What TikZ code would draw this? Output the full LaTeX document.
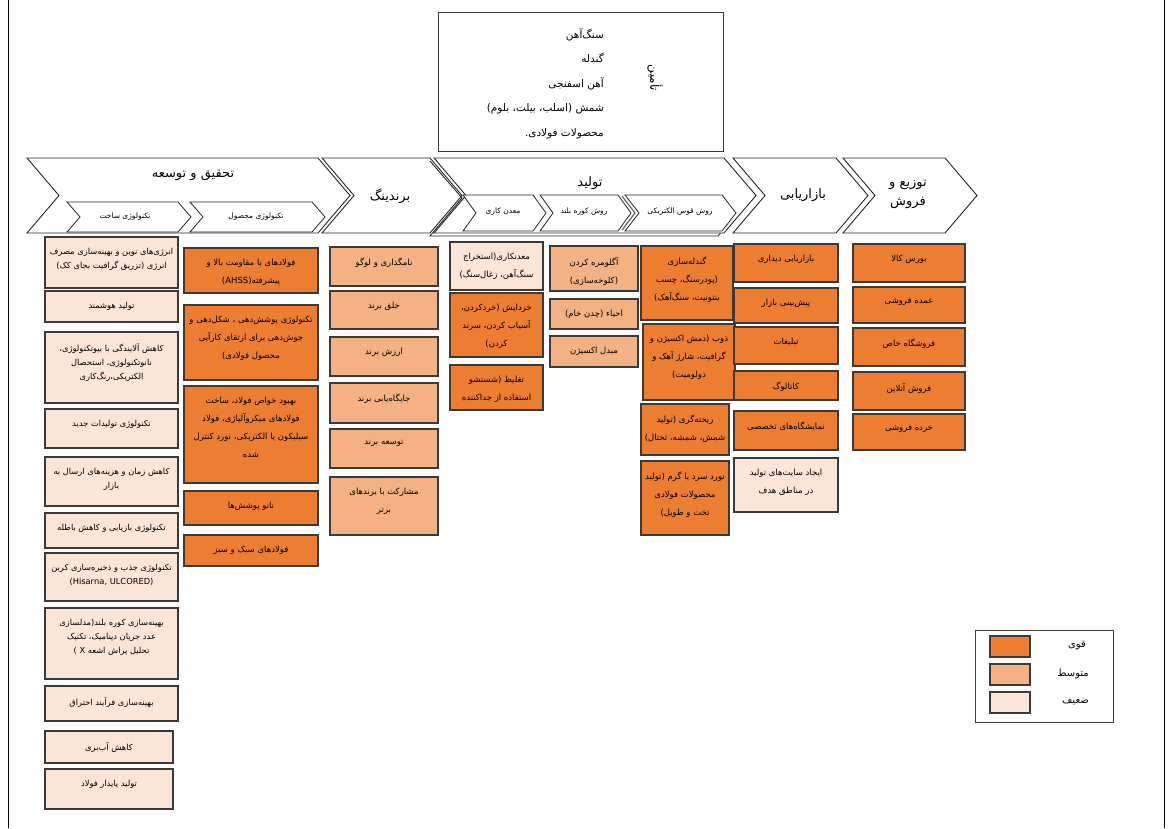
\documentclass[tikz,border=0pt]{standalone}
\usepackage{fontspec}
\newfontfamily\farsi[Script=Arabic]{DejaVu Sans}
\TeXXeTstate=1
\newcommand\fa[1]{\beginR#1\endR}
\definecolor{lvlhighc}{HTML}{ED7D31}
\definecolor{lvlmidc}{HTML}{F4B183}
\definecolor{lvllowc}{HTML}{FBE5D6}
\definecolor{edgec}{HTML}{3A3A3A}

% a box from (x1,y1) to (x2,y2) with its text set near the top
% #1 text options, #2 name, #3 x1, #4 y1, #5 x2, #6 y2, #7 fill style, #8 text
\newcommand\cellbx[8][]{%
  \node[cellbox,#7,minimum width={(#5-#3)*1pt},minimum height={(#6-#4)*1pt}]
     (#2) at ({(#3+#5)/2},{(#4+#6)/2}) {};
  \node[celltext,#1,anchor=north] (#2-t) at ([yshift=-11pt]#2.north) {#8};
}
% arrow-like band: #1 style, #2 x1, #3 y1, #4 x2, #5 y2, #6 point depth
\newcommand\chevshape[6][]{%
  \draw[chev,#1] (#2,#3) -- (#4,#3) -- ({#4+#6},{(#3+#5)/2}) -- (#4,#5)
     -- (#2,#5) -- ({#2+#6},{(#3+#5)/2}) -- cycle;}

\begin{document}
\begin{tikzpicture}[x=1pt,y=-1pt,
  cellbox/.style={draw=edgec,line width=1.3pt,inner sep=0pt,outer sep=0pt},
  celltext/.style={font=\farsi\fontsize{8.5}{18}\selectfont,align=center,inner sep=0pt},
  tight/.style={font=\farsi\fontsize{8.3}{14}\selectfont},
  lvlhigh/.style={fill=lvlhighc},
  lvlmid/.style={fill=lvlmidc},
  lvllow/.style={fill=lvllowc},
  chev/.style={draw=black!85,line width=0.9pt,fill=white,line join=miter},
  head/.style={font=\farsi\fontsize{13}{19}\selectfont,align=center,inner sep=0pt},
  subhead/.style={font=\farsi\fontsize{7.5}{9}\selectfont,inner sep=0pt},
  legtext/.style={anchor=east,inner sep=0pt,font=\farsi\fontsize{10}{12}\selectfont},
]
\useasboundingbox (0,0) rectangle (1172,828);
\fill[white] (0,0) rectangle (1172,828);
% page frame
\draw[line width=1pt] (8,0) -- (8,828);
\draw[line width=1pt] (1164,0) -- (1164,828);

% supply box
\node[draw=edgec,line width=1pt,minimum width=285pt,minimum height=139pt,inner sep=0pt]
  (supply) at (580.5,81.5) {};
\node[anchor=north east,align=right,inner sep=0pt,
      font=\farsi\fontsize{10.5}{24.5}\selectfont] (supplylist) at (604,28)
  {\fa{سنگ‌آهن}\\\fa{گندله}\\\fa{آهن اسفنجی}\\\fa{شمش (اسلب، بیلت، بلوم)}\\\fa{محصولات فولادی.}};
\node[rotate=-90,inner sep=0pt,font=\farsi\fontsize{12}{14}\selectfont]
  (supplyhead) at (655,78) {\fa{تأمین}};

% value chain bands
\chevshape{27}{158}{318}{233}{32}
\chevshape{322}{158}{430}{233}{32}
\draw[chev,fill=none] (430,161) -- (462,198) -- (430,236) -- (718,236) -- (750,198);
\chevshape{434}{158}{724}{233}{32}
\chevshape{733}{158}{836}{233}{32}
\chevshape{843}{158}{945}{233}{32}

% research and development sub-bands
\chevshape[line width=0.8pt]{67}{202}{178}{232}{13}
\chevshape[line width=0.8pt]{190}{202}{312}{232}{13}
% production sub-bands
\chevshape[line width=0.8pt]{463}{195}{533}{231}{13}
\chevshape[line width=0.8pt]{540}{195}{618}{231}{13}
\chevshape[line width=0.8pt]{625}{195}{722}{231}{14}
\draw[black!60,line width=1.2pt] (622,196) -- (635,213) -- (622,230);

\node[head] (rnd) at (193,175) {\fa{تحقیق و توسعه}};
\node[subhead] (buildtech) at (125,217) {\fa{تکنولوژی ساخت}};
\node[subhead] (prodtech) at (256,217) {\fa{تکنولوژی محصول}};
\node[head] (brand) at (390,196) {\fa{برندینگ}};
\node[head] (produce) at (590,183) {\fa{تولید}};
\node[subhead] (mining) at (503,212) {\fa{معدن کاری}};
\node[subhead] (blastf) at (584,212) {\fa{روش کوره بلند}};
\node[subhead] (arcf) at (680,212) {\fa{روش قوس الکتریکی}};
\node[head] (market) at (803,195) {\fa{بازاریابی}};
\node[head] (distrib) at (908,194) {\fa{توزیع و}\\\fa{فروش}};

% building technology
\cellbx[tight]{ba}{45}{237}{178}{288}{lvllow}{\fa{انرژی‌های نوین و بهینه‌سازی مصرف}\\\fa{انرژی (تزریق گرافیت بجای کک)}}
\cellbx[tight]{bb}{45}{291}{178}{322}{lvllow}{\fa{تولید هوشمند}}
\cellbx[tight]{bc}{45}{332}{178}{403}{lvllow}{\fa{کاهش آلایندگی با بیوتکنولوژی،}\\\fa{نانوتکنولوژی، استحصال}\\\fa{الکتریکی،رنگ‌کاری}}
\cellbx[tight]{bd}{45}{409}{178}{448}{lvllow}{\fa{تکنولوژی تولیدات جدید}}
\cellbx[tight]{be}{45}{457}{178}{506}{lvllow}{\fa{کاهش زمان و هزینه‌های ارسال به}\\\fa{بازار}}
\cellbx[tight]{bf}{45}{513}{178}{548}{lvllow}{\fa{تکنولوژی بازیابی و کاهش باطله}}
\cellbx[tight]{bg}{45}{553}{178}{601}{lvllow}{\fa{تکنولوژی جذب و ذخیره‌سازی کربن}\\(Hisarna, ULCORED)}
\cellbx[tight]{bh}{45}{608}{178}{679}{lvllow}{\fa{بهینه‌سازی کوره بلند(مدلسازی}\\\fa{عدد جریان دینامیک، تکنیک}\\\fa{تحلیل پراش اشعه \beginL X\endL{} )}}
\cellbx[tight]{bi}{45}{686}{178}{721}{lvllow}{\fa{بهینه‌سازی فرآیند احتراق}}
\cellbx[tight]{bj}{45}{731}{173}{763}{lvllow}{\fa{کاهش آب‌بری}}
\cellbx[tight]{bk}{45}{769}{173}{809}{lvllow}{\fa{تولید پایدار فولاد}}

% product technology
\cellbx{pa}{184}{248}{318}{293}{lvlhigh}{\fa{فولادهای با مقاومت بالا و}\\\fa{پیشرفته\beginL(AHSS)\endL}}
\cellbx{pb}{184}{305}{318}{380}{lvlhigh}{\fa{تکنولوژی پوشش‌دهی ، شکل‌دهی و}\\\fa{جوش‌دهی برای ارتقای کارآیی}\\\fa{محصول فولادی)}}
\cellbx{pc}{184}{386}{318}{483}{lvlhigh}{\fa{بهبود خواص فولاد، ساخت}\\\fa{فولادهای میکروآلیاژی، فولاد}\\\fa{سیلیکون یا الکتریکی، نورد کنترل}\\\fa{شده}}
\cellbx{pd}{184}{491}{318}{525}{lvlhigh}{\fa{نانو پوشش‌ها}}
\cellbx{pe}{184}{535}{318}{566}{lvlhigh}{\fa{فولادهای سبک و سبز}}

% branding
\cellbx{ga}{330}{247}{438}{286}{lvlmid}{\fa{نامگذاری و لوگو}}
\cellbx{gb}{330}{291}{438}{329}{lvlmid}{\fa{خلق برند}}
\cellbx{gc}{330}{337}{438}{376}{lvlmid}{\fa{ارزش برند}}
\cellbx{gd}{330}{383}{438}{423}{lvlmid}{\fa{جایگاه‌یابی برند}}
\cellbx{ge}{330}{429}{438}{468}{lvlmid}{\fa{توسعه برند}}
\cellbx{gf}{330}{477}{438}{535}{lvlmid}{\fa{مشارکت با برندهای}\\\fa{برتر}}

% production: mining
\cellbx{ma}{450}{242}{543}{290}{lvllow}{\fa{معدنکاری(استخراج}\\\fa{سنگ‌آهن، زغال‌سنگ)}}
\cellbx{mb}{450}{293}{543}{357}{lvlhigh}{\fa{خردایش (خردکردن،}\\\fa{آسیاب کردن، سرند}\\\fa{کردن)}}
\cellbx{mc}{450}{365}{543}{410}{lvlhigh}{\fa{تغلیظ (شستشو}\\\fa{استفاده از جداکننده}}

% production: blast furnace
\cellbx{fa}{550}{246}{638}{291}{lvlmid}{\fa{آگلومره کردن}\\\fa{(کلوخه‌سازی)}}
\cellbx{fb}{550}{299}{638}{329}{lvlmid}{\fa{احیاء (چدن خام)}}
\cellbx{fc}{550}{336}{638}{367}{lvlmid}{\fa{مبدل اکسیژن}}

% production: electric arc
\cellbx{ea}{641}{246}{733}{320}{lvlhigh}{\fa{گندله‌سازی}\\\fa{(پودرسنگ، چسب}\\\fa{بنتونیت، سنگ‌آهک)}}
\cellbx{eb}{643}{324}{735}{400}{lvlhigh}{\fa{ذوب (دمش اکسیژن و}\\\fa{گرافیت، شارژ آهک و}\\\fa{دولومیت)}}
\cellbx{ec}{641}{404}{729}{455}{lvlhigh}{\fa{ریخته‌گری (تولید}\\\fa{شمش، شمشه، تختال)}}
\cellbx{ed}{641}{461}{729}{535}{lvlhigh}{\fa{نورد سرد یا گرم (تولید}\\\fa{محصولات فولادی}\\\fa{تخت و طویل)}}

% marketing
\cellbx{ka}{734}{244}{838}{282}{lvlhigh}{\fa{بازاریابی دیداری}}
\cellbx{kb}{734}{288}{838}{323}{lvlhigh}{\fa{پیش‌بینی بازار}}
\cellbx{kc}{734}{327}{838}{364}{lvlhigh}{\fa{تبلیغات}}
\cellbx{kd}{734}{371}{838}{400}{lvlhigh}{\fa{کاتالوگ}}
\cellbx{ke}{734}{411}{838}{450}{lvlhigh}{\fa{نمایشگاه‌های تخصصی}}
\cellbx{kf}{734}{458}{838}{512}{lvllow}{\fa{ایجاد سایت‌های تولید}\\\fa{در مناطق هدف}}

% distribution and sales
\cellbx{da}{853}{244}{965}{282}{lvlhigh}{\fa{بورس کالا}}
\cellbx{db}{853}{287}{965}{323}{lvlhigh}{\fa{عمده فروشی}}
\cellbx{dc}{853}{328}{965}{366}{lvlhigh}{\fa{فروشگاه خاص}}
\cellbx{dd}{853}{372}{965}{410}{lvlhigh}{\fa{فروش آنلاین}}
\cellbx{de}{853}{414}{965}{450}{lvlhigh}{\fa{خرده فروشی}}

% legend
\node[draw=edgec,line width=1pt,minimum width=138pt,minimum height=92pt,inner sep=0pt]
  (legend) at (1044,676) {};
\node[cellbox,lvlhigh,minimum width=40pt,minimum height=21pt] (lgh) at (1010,646.5) {};
\node[cellbox,lvlmid,minimum width=40pt,minimum height=21pt] (lgm) at (1010,674.5) {};
\node[cellbox,lvllow,minimum width=40pt,minimum height=21pt] (lgl) at (1010,702.5) {};
\node[legtext] (lghl) at (1086,646) {\fa{قوی}};
\node[legtext] (lgml) at (1089,674) {\fa{متوسط}};
\node[legtext] (lgll) at (1089,702) {\fa{ضعیف}};
\end{tikzpicture}
\end{document}
